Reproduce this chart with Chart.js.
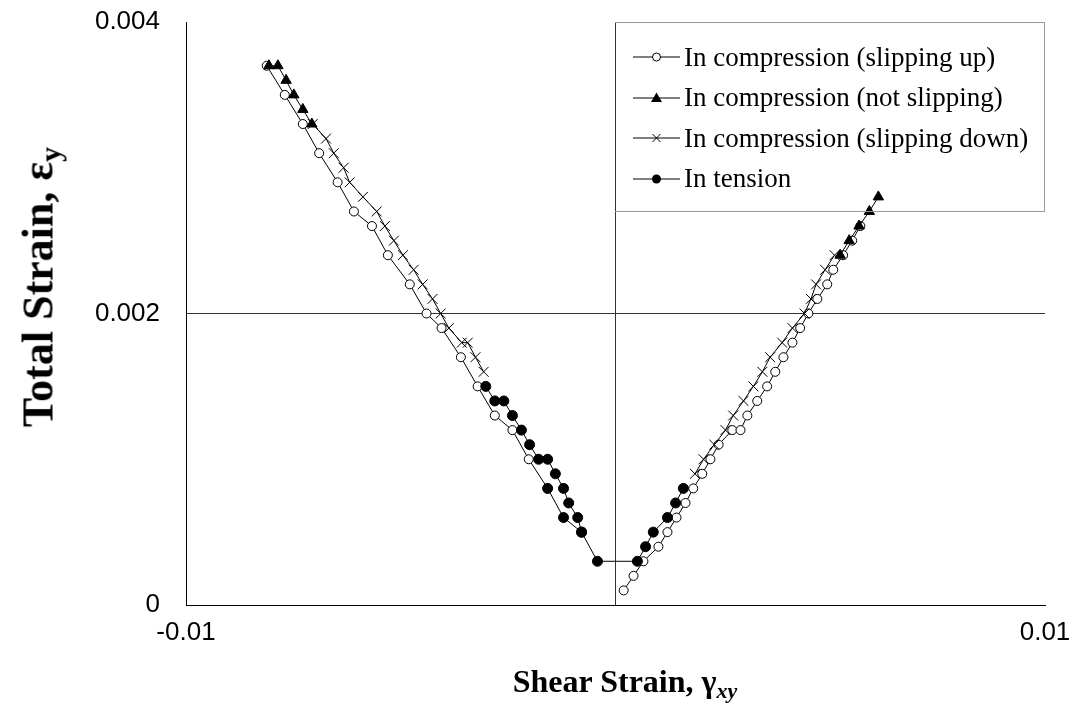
<!DOCTYPE html>
<html>
<head>
<meta charset="utf-8">
<script src="https://cdn.jsdelivr.net/npm/chart.js@4.4.1/dist/chart.umd.min.js"></script>
<style>
  html, body { margin:0; padding:0; background:#fff; }
  #wrap { position:relative; width:1077px; height:715px; }
  canvas { position:absolute; left:0; top:0; }
  .title { position:absolute; font-family:"Liberation Serif","Times New Roman",serif; font-weight:bold; color:#000; white-space:nowrap; }
  #xtitle { font-size:32px; left:625px; top:683px; transform:translate(-50%,-50%); }
  #xtitle sub { font-style:italic; font-size:22px; vertical-align:-6px; }
  #ytitle { font-size:44px; left:40px; top:287px; transform:translate(-50%,-50%) rotate(-90deg); }
  #ytitle sub { font-size:30px; vertical-align:-8px; }
  #legbox { position:absolute; left:615px; top:22px; width:430px; height:190px; border:1px solid #999; border-left:none; box-sizing:border-box; }
  #legend { position:absolute; left:633px; top:37px; font-family:"Liberation Serif","Times New Roman",serif; font-size:27px; color:#000; }
  .row { height:40.5px; display:flex; align-items:center; white-space:nowrap; }
  .row svg { width:47px; height:14px; margin-right:4px; flex:none; }
</style>
</head>
<body>
<div id="wrap">
  <canvas id="c" width="1077" height="715"></canvas>
  <div id="legbox"></div>
  <div id="ytitle" class="title">Total Strain, ε<sub>y</sub></div>
  <div id="xtitle" class="title">Shear Strain, γ<sub>xy</sub></div>
  <div id="legend"></div>
</div>
<script>
// ---- data ----
const seriesNames = ['In compression (slipping up)', 'In compression (not slipping)', 'In compression (slipping down)', 'In tension'];

const slipUpLeftX  = [-0.00812,-0.0077,-0.00728,-0.0069,-0.00647,-0.00609,-0.00567,-0.0053,-0.00479,-0.0044,-0.00405,-0.0036,-0.00321,-0.00281,-0.0024,-0.00202,-0.00158];
const slipUpLeftY  = [0.0037,0.0035,0.0033,0.0031,0.0029,0.0027,0.0026,0.0024,0.0022,0.0020,0.0019,0.0017,0.0015,0.0013,0.0012,0.0010,0.0008];
const slipUpRightX = [0.00019,0.00042,0.00065,0.001,0.00121,0.00142,0.00163,0.00181,0.00202,0.00221,0.0024,0.00272,0.00291,0.00307,0.0033,0.00353,0.00372,0.00391,0.00412,0.0043,0.00449,0.0047,0.00493,0.00507,0.0053,0.00551,0.0057];
const slipUpRightY = [0.0001,0.0002,0.0003,0.0004,0.0005,0.0006,0.0007,0.0008,0.0009,0.0010,0.0011,0.0012,0.0012,0.0013,0.0014,0.0015,0.0016,0.0017,0.0018,0.0019,0.0020,0.0021,0.0022,0.0023,0.0024,0.0025,0.0026];

const notSlipLeftX  = [-0.00807,-0.00786,-0.00767,-0.00749,-0.00728,-0.00707];
const notSlipLeftY  = [0.0037,0.0037,0.0036,0.0035,0.0034,0.0033];
const notSlipRightX = [0.00523,0.00544,0.00567,0.00591,0.00612];
const notSlipRightY = [0.0024,0.0025,0.0026,0.0027,0.0028];

const slipDownLeftX  = [-0.00705,-0.00674,-0.00656,-0.00633,-0.00619,-0.00588,-0.00556,-0.00537,-0.00516,-0.00495,-0.0047,-0.00449,-0.00426,-0.00407,-0.00388,-0.00358,-0.00344,-0.00326,-0.00307];
const slipDownLeftY  = [0.0033,0.0032,0.0031,0.0030,0.0029,0.0028,0.0027,0.0026,0.0025,0.0024,0.0023,0.0022,0.0021,0.0020,0.0019,0.0018,0.0018,0.0017,0.0016];
const slipDownRightX = [0.00185,0.00205,0.0023,0.00256,0.00274,0.00298,0.00321,0.00342,0.0036,0.00388,0.00412,0.0044,0.00455,0.00467,0.00488,0.0051];
const slipDownRightY = [0.0009,0.0010,0.0011,0.0012,0.0013,0.0014,0.0015,0.0016,0.0017,0.0018,0.0019,0.0020,0.0021,0.0022,0.0023,0.0024];

const tensionX = [-0.00302,-0.00281,-0.0026,-0.0024,-0.00219,-0.002,-0.00179,-0.00158,-0.0014,-0.00121,-0.00109,-0.00088,-0.00079,-0.00042,0.00051,0.0007,0.00088,0.00121,0.0014,0.00158];
const tensionY = [0.0015,0.0014,0.0014,0.0013,0.0012,0.0011,0.0010,0.0010,0.0009,0.0008,0.0007,0.0006,0.0005,0.0003,0.0003,0.0004,0.0005,0.0006,0.0007,0.0008];
const tensionInnerX = [-0.00158,-0.00121,-0.00079];
const tensionInnerY = [0.0008,0.0006,0.0005];

const xTickValues = [-0.01, 0, 0.01];
const xTickLabels = ['-0.01', '', '0.01'];
const yTickValues = [0, 0.002, 0.004];
const yTickLabels = ['0', '0.002', '0.004'];

// ---- build ----
const pts = (xs, ys) => xs.map((x, i) => ({ x: x, y: ys[i] }));

const styles = [
  { pointStyle:'circle',   pointRadius:4.5, pointBackgroundColor:'#fff', order:4 },
  { pointStyle:'triangle', pointRadius:6,   pointBackgroundColor:'#000', order:3 },
  { pointStyle:'crossRot', pointRadius:7,   pointBackgroundColor:'#000', order:2 },
  { pointStyle:'circle',   pointRadius:5,   pointBackgroundColor:'#000', order:1 }
];
function ds(si, data) {
  return Object.assign({
    data: data, showLine:true, borderColor:'#000', borderWidth:1,
    pointBorderColor:'#000', pointBorderWidth:1, tension:0, fill:false
  }, styles[si]);
}

const datasets = [
  ds(0, pts(slipUpLeftX, slipUpLeftY)),
  ds(0, pts(slipUpRightX, slipUpRightY)),
  ds(1, pts(notSlipLeftX, notSlipLeftY)),
  ds(1, pts(notSlipRightX, notSlipRightY)),
  ds(2, pts(slipDownLeftX, slipDownLeftY)),
  ds(2, pts(slipDownRightX, slipDownRightY)),
  ds(3, pts(tensionX, tensionY)),
  ds(3, pts(tensionInnerX, tensionInnerY))
];

const tickFont = { family:'"Liberation Sans", Arial, sans-serif', size:26 };
// only the crossing lines at x = 0 and y = 0.002 are drawn inside the plot
const gridColor = ctx => (ctx.tick && (ctx.tick.value === 0 || ctx.tick.value === 0.002)) ? '#333' : 'rgba(0,0,0,0)';

new Chart(document.getElementById('c'), {
  type:'scatter',
  data:{ datasets: datasets },
  options:{
    responsive:false, animation:false, devicePixelRatio:1,
    layout:{ padding:{ top:22, right:32, left:0, bottom:0 } },
    plugins:{ legend:{ display:false }, tooltip:{ enabled:false } },
    scales:{
      x:{
        type:'linear', min:-0.01, max:0.01,
        afterBuildTicks: s => { s.ticks = xTickValues.map(v => ({ value:v })); },
        afterFit: s => { s.height = 110; s.paddingLeft = 0; s.paddingRight = 0; },
        ticks:{ callback:(v, i) => xTickLabels[i], font:tickFont, color:'#000', padding:12, maxRotation:0, autoSkip:false },
        grid:{ color:gridColor, lineWidth:1, drawTicks:false },
        border:{ color:'#000', width:1 }
      },
      y:{
        type:'linear', min:0, max:0.004,
        afterBuildTicks: s => { s.ticks = yTickValues.map(v => ({ value:v })); },
        afterFit: s => { s.width = 186; s.paddingTop = 0; s.paddingBottom = 0; },
        ticks:{ callback:(v, i) => yTickLabels[i], font:tickFont, color:'#000', padding:26, autoSkip:false },
        grid:{ color:ctx => (ctx.tick && ctx.tick.value === 0.002) ? '#333' : 'rgba(0,0,0,0)', lineWidth:1, drawTicks:false },
        border:{ color:'#000', width:1 }
      }
    }
  }
});

// ---- legend (HTML) ----
const icons = [
  '<circle cx="23.5" cy="7" r="4" fill="#fff" stroke="#000" stroke-width="1"/>',
  '<polygon points="23.5,1.5 29,11 18,11" fill="#000"/>',
  '<path d="M19.5 3 L27.5 11 M27.5 3 L19.5 11" stroke="#000" stroke-width="1"/>',
  '<circle cx="23.5" cy="7" r="4.5" fill="#000"/>'
];
const lg = document.getElementById('legend');
seriesNames.forEach((name, i) => {
  const row = document.createElement('div');
  row.className = 'row';
  row.innerHTML = '<svg viewBox="0 0 47 14"><line x1="0" y1="7" x2="47" y2="7" stroke="#000" stroke-width="1"/>' + icons[i] + '</svg><span>' + name + '</span>';
  lg.appendChild(row);
});
</script>
</body>
</html>
